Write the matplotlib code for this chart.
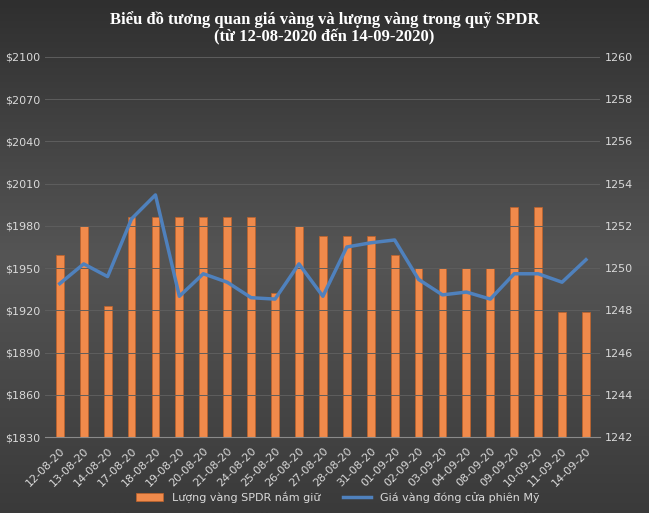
import matplotlib
matplotlib.use("Agg")
import matplotlib.pyplot as plt
import numpy as np

dates = ["12-08-20","13-08-20","14-08-20","17-08-20","18-08-20","19-08-20","20-08-20","21-08-20",
         "24-08-20","25-08-20","26-08-20","27-08-20","28-08-20","31-08-20","01-09-20","02-09-20",
         "03-09-20","04-09-20","08-09-20","09-09-20","10-09-20","11-09-20","14-09-20"]
holdings = [1250.6,1252.0,1248.2,1252.4,1252.4,1252.4,1252.4,1252.4,1252.4,1248.8,1252.0,1251.5,
            1251.5,1251.5,1250.6,1250.0,1250.0,1250.0,1250.0,1252.9,1252.9,1247.9,1247.9]
price = [1939,1953,1944,1985,2002,1930,1946,1940,1929,1928,1953,1930,1965,1968,1970,1942,
         1931,1933,1928,1946,1946,1940,1956]

fig = plt.figure(figsize=(6.49,5.13), dpi=100)
bg = fig.add_axes([0,0,1,1], zorder=-10)
grad = np.linspace(0,1,256).reshape(-1,1)
bg.imshow(grad, cmap=matplotlib.colors.LinearSegmentedColormap.from_list("g",["#2f2f2f","#555555","#3a3a3a"]),
          aspect="auto", extent=[0,1,0,1])
bg.axis("off")

ax2 = fig.add_axes([0.07, 0.148, 0.855, 0.741])
ax = ax2.twinx()
x = np.arange(len(dates))
ax.bar(x, holdings, width=0.33, color="#f08a4b", edgecolor="#c0622a", linewidth=0.5, label="Lượng vàng SPDR nắm giữ", zorder=2)
ax.set_ylim(1242,1260)
ax.set_yticks(np.arange(1242,1261,2))
ax2.plot(x, price, color="#4f81bd", lw=2.5, label="Giá vàng đóng cửa phiên Mỹ")
ax2.set_ylim(1830,2100)
ax2.set_yticks(np.arange(1830,2101,30))
ax2.set_yticklabels([f"${v}" for v in range(1830,2101,30)])
ax2.set_zorder(ax.get_zorder()+1); ax2.patch.set_visible(False)
ax.patch.set_visible(False)
ax2.grid(axis="y", color="#5e5e5e", lw=0.7)
ax2.set_axisbelow(True)
ax2.set_xlim(-0.6, len(dates)-0.4)
ax2.set_xticks(x)
ax2.set_xticklabels(dates, rotation=45, ha="right", rotation_mode="anchor")
for a in (ax, ax2):
    a.tick_params(colors="#d9d9d9", labelsize=8, length=0)
    for s in a.spines.values():
        s.set_visible(False)
ax2.tick_params(axis="x", pad=6)
ax2.spines["bottom"].set_visible(True); ax2.spines["bottom"].set_color("#8a8a8a")
fig.text(0.5, 0.978, "Biểu đồ tương quan giá vàng và lượng vàng trong quỹ SPDR\n(từ 12-08-2020 đến 14-09-2020)",
         ha="center", va="top", color="white", fontsize=12, fontweight="bold", family="Liberation Serif", linespacing=1.1)
h1,l1 = ax.get_legend_handles_labels(); h2,l2 = ax2.get_legend_handles_labels()
fig.legend(h1+h2, l1+l2, loc="lower center", bbox_to_anchor=(0.52,0.0), ncol=2, frameon=False,
           labelcolor="#d9d9d9", fontsize=8, handlelength=2.5)
fig.savefig("out.png", dpi=100)
